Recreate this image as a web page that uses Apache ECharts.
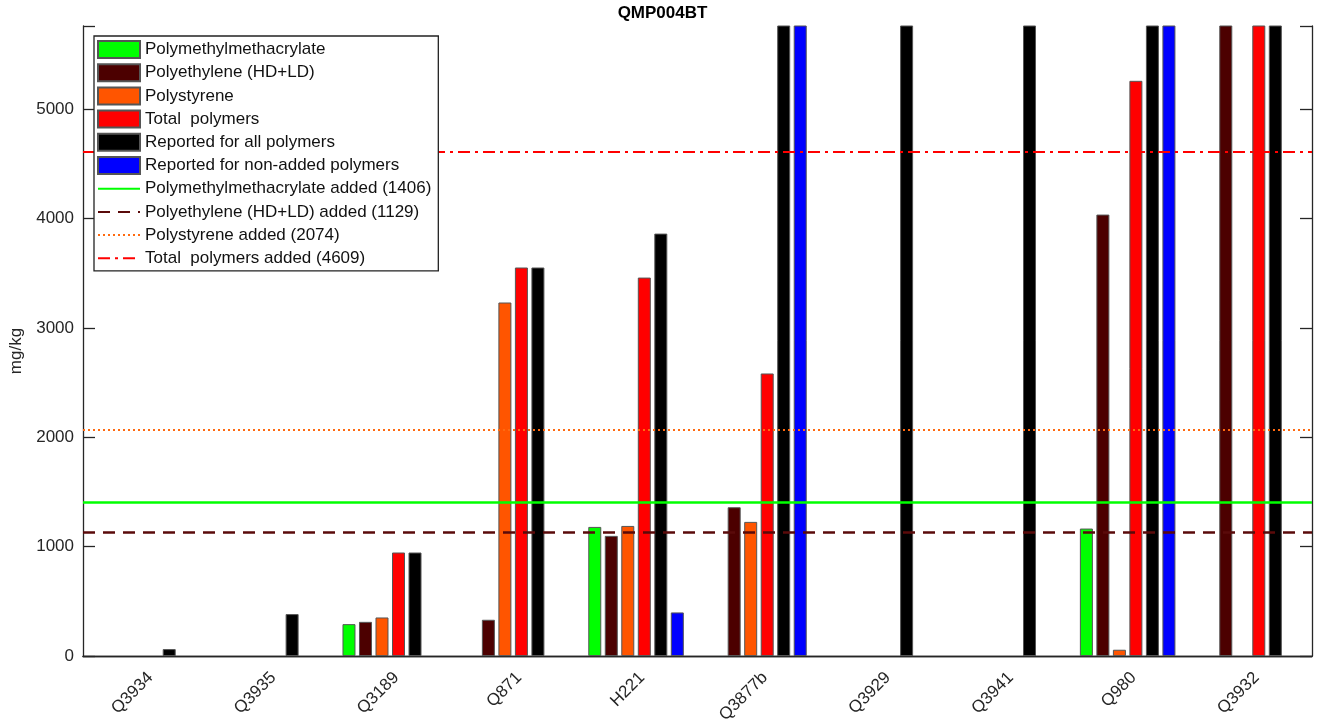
<!DOCTYPE html>
<html>
<head>
<meta charset="utf-8">
<script src="https://cdn.jsdelivr.net/npm/echarts@6/dist/echarts.min.js"></script>
<style>
html,body{margin:0;padding:0;background:#fff;}
#chart{width:1325px;height:726px;}
</style>
</head>
<body>
<div id="chart"></div>
<script>
// ---- data ----
const categories = ['Q3934','Q3935','Q3189','Q871','H221','Q3877b','Q3929','Q3941','Q980','Q3932'];
const pmma      = [null, null, 292, null, 1181, null, null, null, 1166, null];
const pe        = [null, null, 313, 332, 1099, 1361, null, null, 4037, 6000];
const ps        = [null, null, 353, 3233, 1190, 1227, null, null, 58, null];
const total     = [null, null, 947, 3553, 3461, 2584, null, null, 5260, 6000];
const reportedAll    = [64, 384, 947, 3553, 3863, 6000, 6000, 6000, 6000, 6000];
const reportedNonAdd = [null, null, null, null, 399, 6000, null, null, 6000, null];
const addedPMMA = 1406, addedPE = 1129, addedPS = 2074, addedTotal = 4609;
const yMax = 1.25 * addedTotal;
const yTicks = [0, 1000, 2000, 3000, 4000, 5000];

const FONT = 'Liberation Sans, Arial, Helvetica, sans-serif';
const AX = '#262626';

const barNames = ['Polymethylmethacrylate','Polyethylene (HD+LD)','Polystyrene','Total  polymers',
                  'Reported for all polymers','Reported for non-added polymers'];
const lineNames = ['Polymethylmethacrylate added (1406)','Polyethylene (HD+LD) added (1129)',
                   'Polystyrene added (2074)','Total  polymers added (4609)'];

function barSeries(name, data, color) {
  return {
    name, type: 'bar', data,
    barWidth: 13, barGap: '27%',
    itemStyle: { color, borderColor: '#555', borderWidth: 1 },
    emphasis: { disabled: true },
    clip: true, z: 2
  };
}
function refLine(name, value, color, type, width) {
  return {
    name, type: 'line', data: [], symbol: 'none', showSymbol: false, z: 3,
    lineStyle: { color, type, width },
    itemStyle: { color },
    markLine: {
      silent: true, symbol: ['none','none'], animation: false,
      label: { show: false },
      lineStyle: { color, type, width },
      data: [{ yAxis: value }]
    }
  };
}

const chart = echarts.init(document.getElementById('chart'));
chart.setOption({
  animation: false,
  backgroundColor: '#fff',
  textStyle: { fontFamily: FONT },
  title: {
    text: 'QMP004BT', left: 'center', top: 5, padding: 0,
    textStyle: { fontSize: 17, fontWeight: 'bold', color: '#000', fontFamily: FONT }
  },
  grid: { left: 83, right: 13, top: 26, bottom: 69, containLabel: false },
  legend: {
    orient: 'vertical', left: 94, top: 36, z: 10,
    padding: [4, 7, 3, 3],
    itemWidth: 42, itemHeight: 17, itemGap: 4.2,
    backgroundColor: '#fff', borderColor: '#222', borderWidth: 1.3,
    textStyle: { fontSize: 17, color: '#111', fontFamily: FONT, lineHeight: 19 },
    data: barNames.map(n => ({ name: n, icon: 'rect' }))
      .concat(lineNames.map(n => ({ name: n, itemStyle: { opacity: 0 } })))
  },
  xAxis: [{
    type: 'category', data: categories, position: 'bottom',
    axisLine: { lineStyle: { color: AX, width: 1.3 } },
    axisTick: { inside: true, alignWithLabel: true, length: 12, lineStyle: { color: AX, width: 1.3 } },
    axisLabel: { rotate: 45, fontSize: 17, color: AX, margin: 13, align: 'right', verticalAlign: 'top', padding: 0, fontFamily: FONT },
    splitLine: { show: false }
  }, {
    type: 'category', data: categories, position: 'top',
    axisLine: { lineStyle: { color: AX, width: 1.3 } },
    axisTick: { inside: true, alignWithLabel: true, length: 12, lineStyle: { color: AX, width: 1.3 } },
    axisLabel: { show: false }, splitLine: { show: false }
  }],
  yAxis: [{
    type: 'value', min: 0, max: yMax, interval: 1000,
    name: 'mg/kg', nameLocation: 'middle', nameGap: 50,
    nameTextStyle: { fontSize: 17, color: AX, fontFamily: FONT, padding: [0, 20, 0, 0] },
    axisLine: { show: true, lineStyle: { color: AX, width: 1.3 } },
    axisTick: { show: true, inside: true, length: 12, lineStyle: { color: AX, width: 1.3 } },
    axisLabel: { fontSize: 17, color: AX, margin: 9, fontFamily: FONT,
      formatter: v => (yTicks.indexOf(v) >= 0 ? String(v) : '') },
    splitLine: { show: false }
  }, {
    type: 'value', min: 0, max: yMax, interval: 1000, position: 'right',
    axisLine: { show: true, lineStyle: { color: AX, width: 1.3 } },
    axisTick: { show: true, inside: true, length: 12, lineStyle: { color: AX, width: 1.3 } },
    axisLabel: { show: false }, splitLine: { show: false }
  }],
  series: [
    barSeries(barNames[0], pmma, '#00ff00'),
    barSeries(barNames[1], pe, '#4c0000'),
    barSeries(barNames[2], ps, '#ff5500'),
    barSeries(barNames[3], total, '#ff0000'),
    barSeries(barNames[4], reportedAll, '#000000'),
    barSeries(barNames[5], reportedNonAdd, '#0000ff'),
    refLine(lineNames[0], addedPMMA, '#00ff00', 'solid', 2.5),
    refLine(lineNames[1], addedPE, '#5a0a0a', [12, 8], 2.5),
    refLine(lineNames[2], addedPS, '#ff6a10', [2, 3], 2),
    refLine(lineNames[3], addedTotal, '#ff0000', [12, 5, 3, 5], 2)
  ]
});
</script>
</body>
</html>
